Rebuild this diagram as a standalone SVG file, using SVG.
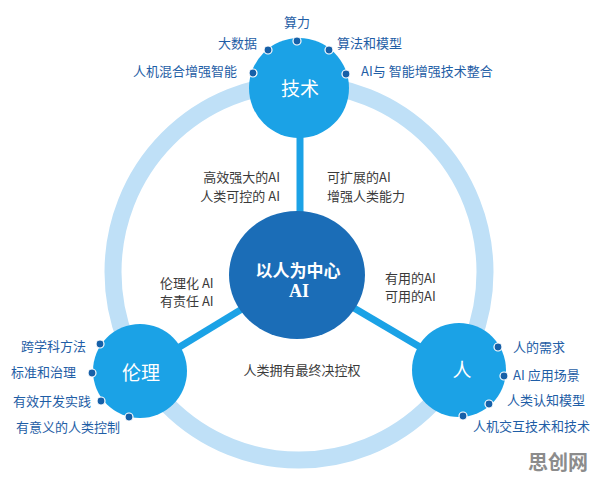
<svg xmlns="http://www.w3.org/2000/svg" width="596" height="480" viewBox="0 0 596 480">
<style>
.lbl{font-family:"Noto Sans CJK SC","Noto Sans",sans-serif;font-size:13px;fill:#1f5ea6}
.inner{font-family:"Noto Sans CJK SC","Noto Sans",sans-serif;font-size:13px;fill:#3a3a3a}
.sat{fill:#1ba2e6}
.sattxt{font-family:"Noto Sans CJK SC","Noto Sans",sans-serif;font-size:19px;fill:#ffffff;text-anchor:middle}
.dot{fill:#1660a8;stroke:#ffffff;stroke-width:1.2}
.spoke{stroke:#1ba2e6;stroke-width:7;fill:none}
</style>
<rect width="596" height="480" fill="#ffffff"/>
<ellipse id="ring" cx="299" cy="272" rx="186" ry="188" fill="none" stroke="#bfe0f7" stroke-width="17"/>
<g id="connectors">
<line class="spoke" x1="300" y1="130" x2="300" y2="220"/>
<line class="spoke" x1="298" y1="275" x2="140" y2="371"/>
<line class="spoke" x1="298" y1="275" x2="459" y2="370"/>
</g>
<g id="center">
<ellipse cx="297" cy="275" rx="68" ry="64" fill="#1b6db7"/>
<text x="298" y="277" font-family="'Noto Sans CJK SC',sans-serif" font-size="17" font-weight="bold" fill="#ffffff" text-anchor="middle">以人为中心</text>
<text x="299" y="297" font-family="'Liberation Serif',serif" font-size="18" font-weight="bold" fill="#ffffff" text-anchor="middle">AI</text>
</g>
<g id="tech">
<circle class="sat" cx="299" cy="88" r="50"/>
<text class="sattxt" x="300" y="96">技术</text>
<circle class="dot" cx="297" cy="41" r="4"/>
<circle class="dot" cx="268" cy="50" r="4"/>
<circle class="dot" cx="329" cy="50" r="4"/>
<circle class="dot" cx="253" cy="73" r="4"/>
<circle class="dot" cx="346" cy="74" r="4"/>
<text class="lbl" x="297" y="27" text-anchor="middle">算力</text>
<text class="lbl" x="257" y="48" text-anchor="end">大数据</text>
<text class="lbl" x="337" y="48">算法和模型</text>
<text class="lbl" x="237" y="76" text-anchor="end">人机混合增强智能</text>
<text class="lbl" x="361" y="76">AI与 智能增强技术整合</text>
</g>
<g id="ethics">
<circle class="sat" cx="140" cy="371" r="47"/>
<text class="sattxt" x="141" y="380">伦理</text>
<circle class="dot" cx="100" cy="344" r="4"/>
<circle class="dot" cx="92" cy="373" r="4"/>
<circle class="dot" cx="101" cy="401" r="4"/>
<circle class="dot" cx="129" cy="417" r="4"/>
<text class="lbl" x="86" y="351" text-anchor="end">跨学科方法</text>
<text class="lbl" x="76" y="377" text-anchor="end">标准和治理</text>
<text class="lbl" x="91" y="406" text-anchor="end">有效开发实践</text>
<text class="lbl" x="120" y="432" text-anchor="end">有意义的人类控制</text>
</g>
<g id="person">
<circle class="sat" cx="459" cy="370" r="47"/>
<text class="sattxt" x="462" y="377">人</text>
<circle class="dot" cx="498" cy="347" r="4"/>
<circle class="dot" cx="504" cy="376" r="4"/>
<circle class="dot" cx="489" cy="404" r="4"/>
<circle class="dot" cx="463" cy="416" r="4"/>
<text class="lbl" x="513" y="352">人的需求</text>
<text class="lbl" x="513" y="380">AI 应用场景</text>
<text class="lbl" x="507" y="405">人类认知模型</text>
<text class="lbl" x="473" y="431">人机交互技术和技术</text>
</g>
<g id="inner-labels">
<text class="inner" x="280" y="182" text-anchor="end">高效强大的AI</text>
<text class="inner" x="280" y="201" text-anchor="end">人类可控的 AI</text>
<text class="inner" x="327" y="182">可扩展的AI</text>
<text class="inner" x="327" y="201">增强人类能力</text>
<text class="inner" x="160" y="288">伦理化 AI</text>
<text class="inner" x="160" y="306">有责任 AI</text>
<text class="inner" x="385" y="283">有用的AI</text>
<text class="inner" x="385" y="301">可用的AI</text>
<text class="inner" x="302" y="375" text-anchor="middle">人类拥有最终决控权</text>
</g>
<text x="528" y="470" font-family="'Noto Sans CJK SC',sans-serif" font-size="20" font-weight="bold" fill="#8c8c8c">思创网</text>
</svg>
